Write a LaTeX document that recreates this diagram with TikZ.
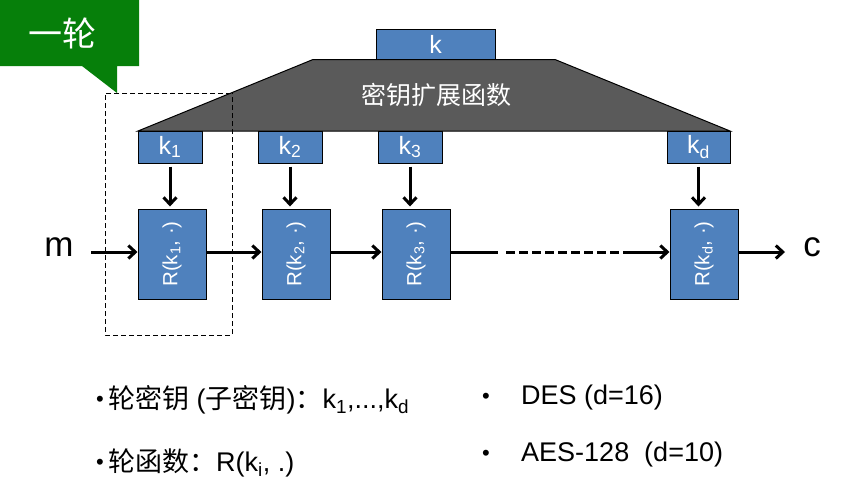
\documentclass[tikz,border=0pt]{standalone}
\usepackage{fontspec}
\setmainfont{Liberation Sans}
\newfontfamily\cjk{Noto Sans CJK SC}
\usetikzlibrary{arrows.meta}
\definecolor{boxblue}{HTML}{4F81BD}
\definecolor{calloutgreen}{HTML}{067F0A}
\definecolor{trapgrey}{HTML}{5A5A5A}
\begin{document}
\begin{tikzpicture}[x=1pt,y=-1pt,
  bbox/.style={draw=black,line width=1pt,fill=boxblue,text=white,inner sep=0pt,font=\fontsize{25}{28}\selectfont},
  kbox/.style={bbox,minimum width=64pt,minimum height=32pt},
  rbox/.style={bbox,minimum width=68pt,minimum height=90pt},
  rlab/.style={text=white,rotate=90,font=\fontsize{20.5}{23}\selectfont,inner sep=0pt},
  arr/.style={line width=3pt,-{Straight Barb[length=7pt,width=13pt,line width=3pt]}},
  plain/.style={line width=3pt},
  dline/.style={line width=3pt,dash pattern=on 9pt off 4pt},
  bigtext/.style={font=\fontsize{35}{40}\selectfont,inner sep=0pt},
  bottext/.style={font=\fontsize{27}{30}\selectfont,inner sep=0pt,anchor=west},
  dottext/.style={font=\fontsize{22}{24}\selectfont,inner sep=0pt,anchor=west}
]
\useasboundingbox (0,0) rectangle (842,493);
% callout
\fill[calloutgreen] (0,0) -- (139,0) -- (139,66) -- (117,66) -- (117,93) -- (82,66) -- (0,66) -- cycle;
\node[text=white,font=\cjk\fontsize{34}{38}\selectfont,inner sep=0pt] (title) at (62,33) {一轮};
% key expansion trapezoid
\draw[line width=1pt,fill=trapgrey] (313,59.5) -- (555,59.5) -- (730,131) -- (138,131) -- cycle;
\node[text=white,font=\cjk\fontsize{25}{28}\selectfont,inner sep=0pt] (kef) at (436,95) {密钥扩展函数};
% dashed round box
\draw[line width=0.9pt,dash pattern=on 5pt off 3pt] (231,93) -- (105,93) -- (105,335) -- (232,335) -- (232,93);
% master key
\node[bbox,minimum width=119pt,minimum height=30pt] (k) at (435.5,44) {k};
% round keys
\node[kbox] (k1) at (170,147) {k\textsubscript{1}};
\node[kbox] (k2) at (290,147) {k\textsubscript{2}};
\node[kbox] (k3) at (410,147) {k\textsubscript{3}};
\node[kbox,minimum width=63pt] (kd) at (698.5,147) {k\textsubscript{d}};
% round functions
\node[rbox] (r1) at (172,254) {};
\node[rbox] (r2) at (296,254) {};
\node[rbox] (r3) at (416,254) {};
\node[rbox] (rd) at (704,254) {};
\node[rlab] at (r1) {R(k\textsubscript{1}, ·)};
\node[rlab] at (r2) {R(k\textsubscript{2}, ·)};
\node[rlab] at (r3) {R(k\textsubscript{3}, ·)};
\node[rlab] at (rd) {R(k\textsubscript{d}, ·)};
% key arrows
\draw[arr,shorten <=3pt,shorten >=2pt] (k1.south) -- (k1.south |- r1.north);
\draw[arr,shorten <=3pt,shorten >=2pt] (k2.south) -- (k2.south |- r2.north);
\draw[arr,shorten <=3pt,shorten >=2pt] (k3.south) -- (k3.south |- r3.north);
\draw[arr,shorten <=3pt,shorten >=2pt] (kd.south) -- (kd.south |- rd.north);
% m and c
\node[bigtext,anchor=center] (m) at (59,247) {m};
\node[bigtext,anchor=center] (c) at (812,247) {c};
\coordinate (min) at (91,252);
\coordinate (d1) at (498,252);
\coordinate (d2) at (506,252);
\coordinate (d3) at (625,252);
\coordinate (cout) at (785,252);
\draw[arr] (min) -- (r1.west |- min);
\draw[arr] (r1.east |- min) -- (r2.west |- min);
\draw[arr] (r2.east |- min) -- (r3.west |- min);
\draw[plain] (r3.east |- min) -- (d1);
\draw[dline] (d2) -- (d3);
\draw[arr] (d3) -- (rd.west |- min);
\draw[arr] (rd.east |- min) -- (cout);
% bottom text
\node[dottext] (b1dot) at (96,401) {•};
\node[bottext] (b1) at (108,400) {{\cjk 轮密钥} ({\cjk 子密钥}){\cjk ：}k\textsubscript{1},...,k\textsubscript{d}};
\node[dottext] (b2dot) at (96,464) {•};
\node[bottext] (b2) at (108,463) {{\cjk 轮函数：}R(k\textsubscript{i}, .)};
\node[dottext] (b3dot) at (482,398) {•};
\node[bottext] (b3) at (521,398) {DES (d=16)};
\node[dottext] (b4dot) at (482,455) {•};
\node[bottext] (b4) at (521,455) {AES-128\ \ (d=10)};
\end{tikzpicture}
\end{document}
